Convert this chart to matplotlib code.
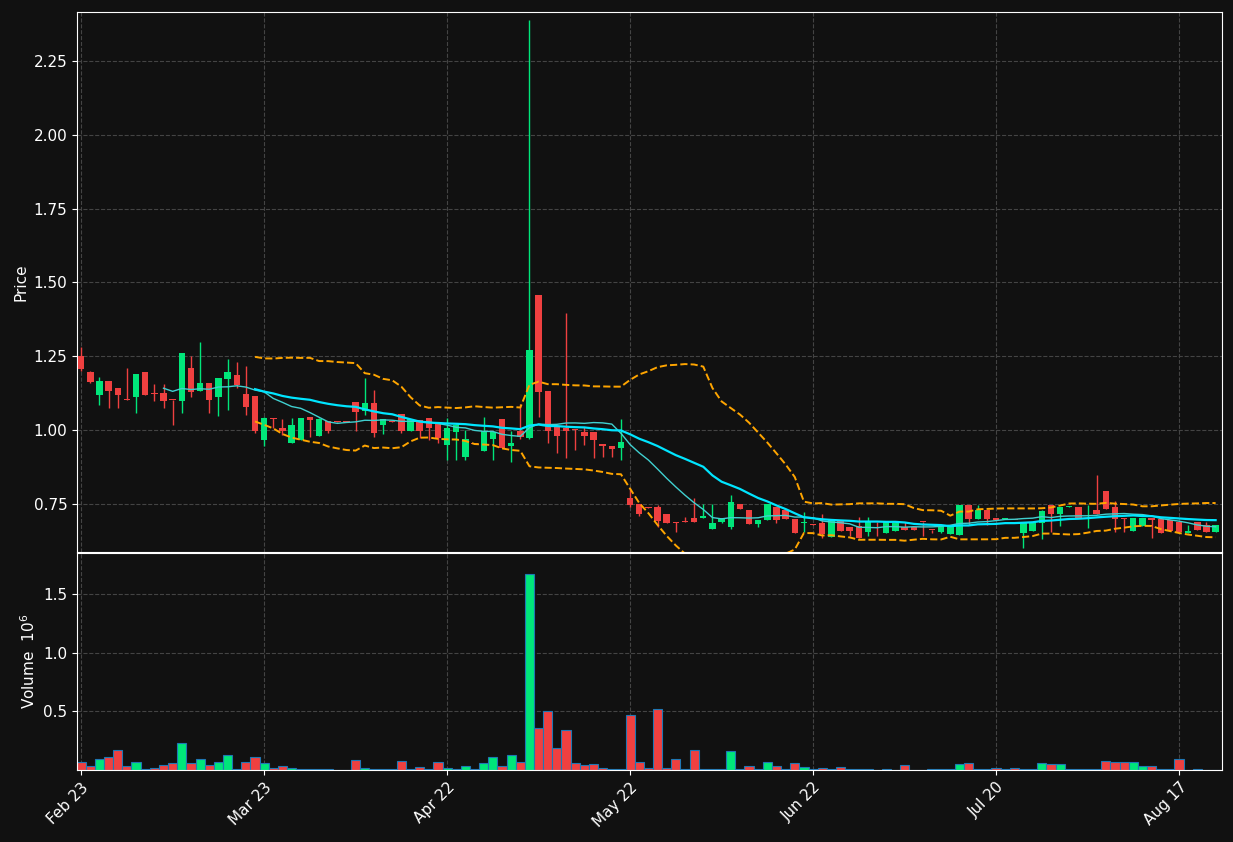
import numpy as np
import pandas as pd
import matplotlib
matplotlib.use('Agg')
import matplotlib.pyplot as plt

# --------------------------------------------
# DATA (one row per trading day)
# --------------------------------------------
opens = [1.251, 1.197, 1.119, 1.166, 1.143, 1.102, 1.112, 1.197, 1.122, 1.126,
         1.102, 1.099, 1.210, 1.133, 1.160, 1.112, 1.173, 1.187, 1.122, 1.116,
         0.967, 1.041, 1.007, 0.957, 0.967, 1.045, 0.980, 1.031, 1.031, 1.028,
         1.095, 1.065, 1.092, 1.017, 1.030, 1.055, 0.997, 1.034, 1.041, 1.021,
         0.950, 0.994, 0.909, 0.955, 0.929, 0.970, 1.038, 0.946, 0.997, 0.974,
         1.458, 1.133, 1.014, 1.007, 1.001, 0.994, 0.994, 0.953, 0.946, 0.940,
         0.770, 0.750, 0.740, 0.740, 0.716, 0.689, 0.690, 0.703, 0.703, 0.665,
         0.689, 0.672, 0.750, 0.730, 0.682, 0.696, 0.740, 0.730, 0.699, 0.685,
         0.681, 0.686, 0.638, 0.696, 0.672, 0.675, 0.655, 0.690, 0.652, 0.659,
         0.672, 0.672, 0.690, 0.663, 0.655, 0.648, 0.645, 0.747, 0.699, 0.730,
         0.703, 0.699, 0.697, 0.652, 0.659, 0.686, 0.747, 0.716, 0.740, 0.740,
         0.699, 0.730, 0.794, 0.740, 0.703, 0.659, 0.675, 0.703, 0.699, 0.696,
         0.689, 0.652, 0.689, 0.680, 0.655]
closes = [1.207, 1.163, 1.166, 1.133, 1.119, 1.101, 1.190, 1.119, 1.121, 1.099,
          1.101, 1.261, 1.129, 1.160, 1.102, 1.177, 1.197, 1.153, 1.078, 0.997,
          1.041, 1.038, 0.997, 1.018, 1.041, 1.034, 1.038, 0.997, 1.027, 1.027,
          1.062, 1.092, 0.990, 1.038, 1.029, 0.997, 1.038, 0.997, 1.007, 0.974,
          1.007, 1.017, 0.970, 0.953, 0.997, 0.994, 0.940, 0.957, 0.977, 1.271,
          1.129, 0.997, 0.980, 0.997, 1.000, 0.980, 0.967, 0.946, 0.936, 0.960,
          0.747, 0.716, 0.737, 0.692, 0.686, 0.686, 0.689, 0.689, 0.709, 0.686,
          0.703, 0.757, 0.733, 0.682, 0.696, 0.750, 0.696, 0.699, 0.652, 0.686,
          0.680, 0.648, 0.696, 0.659, 0.659, 0.635, 0.689, 0.689, 0.689, 0.686,
          0.662, 0.662, 0.689, 0.662, 0.675, 0.675, 0.747, 0.699, 0.730, 0.699,
          0.696, 0.700, 0.696, 0.686, 0.689, 0.726, 0.716, 0.740, 0.743, 0.703,
          0.699, 0.716, 0.733, 0.699, 0.699, 0.703, 0.703, 0.696, 0.652, 0.659,
          0.655, 0.659, 0.662, 0.655, 0.680]
highs = [1.282, 1.200, 1.180, 1.166, 1.143, 1.210, 1.190, 1.197, 1.156, 1.156,
         1.102, 1.261, 1.251, 1.300, 1.160, 1.177, 1.241, 1.231, 1.217, 1.116,
         1.045, 1.041, 1.038, 1.041, 1.041, 1.045, 1.041, 1.031, 1.031, 1.030,
         1.095, 1.177, 1.136, 1.038, 1.031, 1.055, 1.038, 1.034, 1.041, 1.021,
         1.041, 1.021, 1.000, 0.955, 1.045, 0.994, 1.038, 0.997, 1.088, 2.390,
         1.458, 1.133, 1.014, 1.397, 1.003, 1.010, 0.994, 0.953, 0.946, 1.038,
         0.804, 0.750, 0.740, 0.747, 0.716, 0.689, 0.706, 0.770, 0.750, 0.750,
         0.703, 0.780, 0.750, 0.730, 0.696, 0.750, 0.740, 0.730, 0.699, 0.723,
         0.683, 0.716, 0.696, 0.696, 0.672, 0.706, 0.706, 0.690, 0.689, 0.686,
         0.689, 0.672, 0.690, 0.663, 0.675, 0.675, 0.747, 0.747, 0.747, 0.730,
         0.703, 0.702, 0.697, 0.686, 0.689, 0.730, 0.747, 0.740, 0.743, 0.740,
         0.747, 0.848, 0.794, 0.760, 0.703, 0.703, 0.703, 0.703, 0.699, 0.696,
         0.689, 0.680, 0.689, 0.689, 0.680]
lows = [1.200, 1.158, 1.085, 1.075, 1.075, 1.101, 1.058, 1.119, 1.100, 1.075,
        1.018, 1.058, 1.112, 1.133, 1.058, 1.048, 1.068, 1.143, 1.051, 0.990,
        0.946, 1.007, 0.984, 0.957, 0.967, 0.977, 0.980, 0.990, 1.027, 1.026,
        0.997, 1.051, 0.977, 0.987, 1.028, 0.990, 0.997, 0.974, 0.967, 0.957,
        0.900, 0.900, 0.900, 0.953, 0.929, 0.900, 0.940, 0.892, 0.970, 0.970,
        1.045, 0.957, 0.923, 0.906, 0.933, 0.950, 0.906, 0.910, 0.910, 0.900,
        0.740, 0.710, 0.737, 0.672, 0.686, 0.655, 0.689, 0.689, 0.703, 0.665,
        0.686, 0.665, 0.733, 0.682, 0.672, 0.696, 0.686, 0.699, 0.652, 0.655,
        0.678, 0.635, 0.638, 0.659, 0.640, 0.635, 0.640, 0.640, 0.652, 0.659,
        0.662, 0.662, 0.640, 0.650, 0.650, 0.648, 0.645, 0.680, 0.699, 0.680,
        0.696, 0.698, 0.696, 0.600, 0.659, 0.630, 0.655, 0.675, 0.740, 0.703,
        0.670, 0.716, 0.733, 0.655, 0.655, 0.659, 0.675, 0.635, 0.652, 0.659,
        0.655, 0.652, 0.662, 0.655, 0.655]
volumes = [0.07, 0.03, 0.09, 0.11, 0.17, 0.03, 0.07, 0.005, 0.015, 0.04,
           0.06, 0.23, 0.06, 0.09, 0.04, 0.07, 0.13, 0.005, 0.07, 0.11,
           0.06, 0.02, 0.03, 0.02, 0.01, 0.01, 0.01, 0.005, 0.003, 0.003,
           0.085, 0.015, 0.01, 0.005, 0.005, 0.08, 0.005, 0.025, 0.005, 0.07,
           0.015, 0.005, 0.03, 0.005, 0.06, 0.11, 0.035, 0.13, 0.07, 1.67,
           0.36, 0.50, 0.19, 0.34, 0.06, 0.04, 0.05, 0.02, 0.01, 0.005,
           0.47, 0.07, 0.02, 0.52, 0.02, 0.09, 0.005, 0.17, 0.005, 0.005,
           0.005, 0.16, 0.005, 0.03, 0.005, 0.07, 0.03, 0.005, 0.06, 0.025,
           0.005, 0.02, 0.005, 0.025, 0.005, 0.005, 0.005, 0.003, 0.005, 0.003,
           0.04, 0.003, 0.003, 0.01, 0.01, 0.01, 0.05, 0.06, 0.005, 0.01,
           0.02, 0.005, 0.02, 0.005, 0.005, 0.06, 0.05, 0.05, 0.01, 0.005,
           0.01, 0.01, 0.08, 0.07, 0.07, 0.07, 0.03, 0.03, 0.005, 0.01,
           0.09, 0.003, 0.005, 0.003, 0.003]
tick_pos = [0, 20, 40, 60, 80, 100, 120]
tick_labels = ['Feb 23', 'Mar 23', 'Apr 22', 'May 22', 'Jun 22', 'Jul 20', 'Aug 17']

# --------------------------------------------
# INDICATORS
# --------------------------------------------
close_s = pd.Series(closes)
sma10 = close_s.rolling(10).mean()
sma20 = close_s.rolling(20).mean()
std20 = close_s.rolling(20).std(ddof=0)
bb_up = sma20 + 2 * std20
bb_lo = sma20 - 2 * std20

# --------------------------------------------
# PLOT
# --------------------------------------------
BG = '#111111'
UP = '#00e67a'
DOWN = '#ef4040'
x = np.arange(len(closes))

fig = plt.figure(figsize=(12.33, 8.42), dpi=100, facecolor=BG)
ax = fig.add_axes([0.0625, 0.3444, 0.9286, 0.6413], facecolor=BG)
axv = fig.add_axes([0.0625, 0.0855, 0.9286, 0.2577], facecolor=BG, sharex=ax)

for i in x:
    o, c, h, l = opens[i], closes[i], highs[i], lows[i]
    col = UP if c >= o else DOWN
    ax.vlines(i, l, h, color=col, linewidth=1, zorder=2)
    ax.bar(i, max(abs(c - o), 0.003), bottom=min(o, c), width=0.7, color=col, zorder=3)

ax.plot(x, sma10, color='#40d0d0', linewidth=1, zorder=4)
ax.plot(x, sma20, color='#00e5ff', linewidth=1.6, zorder=4)
ax.plot(x, bb_up, color='orange', linestyle='--', linewidth=1.4, zorder=4)
ax.plot(x, bb_lo, color='orange', linestyle='--', linewidth=1.4, zorder=4)

vcols = [UP if closes[i] >= opens[i] else DOWN for i in x]
axv.bar(x, volumes, width=1.0, color=vcols, edgecolor='#1f77b4', linewidth=0.8)

ax.set_xlim(-0.45, 124.7)
ax.set_ylim(0.587, 2.416)
ax.set_yticks([0.75, 1.0, 1.25, 1.5, 1.75, 2.0, 2.25])
axv.set_ylim(0, 1.85)
axv.set_yticks([0.5, 1.0, 1.5])
ax.set_ylabel('Price', color='white', fontsize=11)
axv.set_ylabel('Volume  $10^{6}$', color='white', fontsize=11)
axv.set_xticks(tick_pos)
axv.set_xticklabels(tick_labels, rotation=45, ha='right', rotation_mode='anchor')
plt.setp(ax.get_xticklabels(), visible=False)

for a in (ax, axv):
    a.grid(True, color='#444444', linestyle='--', linewidth=0.8)
    a.set_axisbelow(True)
    a.tick_params(colors='white', labelsize=11)
    for sp in a.spines.values():
        sp.set_color('white')

fig.savefig('out.png', dpi=100, facecolor=BG)
